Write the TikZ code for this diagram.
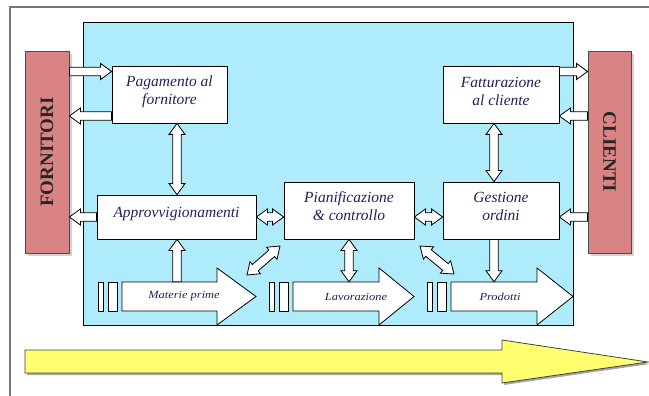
\documentclass[tikz,border=0pt]{standalone}
\usepackage{fontspec}
\setmainfont{Liberation Serif}
\newfontfamily\widefont[FakeStretch=1.15]{Liberation Serif}
\usetikzlibrary{calc,shadows}

\definecolor{panel}{RGB}{174,236,252}
\definecolor{party}{RGB}{217,132,132}
\definecolor{ink}{RGB}{34,34,90}
\definecolor{flow}{RGB}{255,255,112}
\definecolor{frameline}{RGB}{120,120,120}

\newcommand\shafthalf{4.3pt}
\newcommand\headhalf{8pt}
\newcommand\headlen{11pt}

% one-headed block arrow from #1 to #2
\newcommand\onewayarrow[2]{%
  \coordinate (ua-s) at (#1);
  \coordinate (ua-e) at (#2);
  \coordinate (ua-h) at ($(ua-e)!\headlen!(ua-s)$);
  \draw[blockarrow] ($(ua-s)!\shafthalf!90:(ua-e)$) -- ($(ua-h)!\shafthalf!-90:(ua-s)$)
    -- ($(ua-h)!\headhalf!-90:(ua-s)$) -- (ua-e) -- ($(ua-h)!\headhalf!90:(ua-s)$)
    -- ($(ua-h)!\shafthalf!90:(ua-s)$) -- ($(ua-s)!\shafthalf!-90:(ua-e)$) -- cycle;
}
% two-headed block arrow between #1 and #2
\newcommand\twowayarrow[2]{%
  \coordinate (ua-s) at (#1);
  \coordinate (ua-e) at (#2);
  \coordinate (ua-h) at ($(ua-e)!\headlen!(ua-s)$);
  \coordinate (ua-t) at ($(ua-s)!\headlen!(ua-e)$);
  \draw[blockarrow] (ua-s) -- ($(ua-t)!\headhalf!90:(ua-e)$) -- ($(ua-t)!\shafthalf!90:(ua-e)$)
    -- ($(ua-h)!\shafthalf!-90:(ua-s)$) -- ($(ua-h)!\headhalf!-90:(ua-s)$) -- (ua-e)
    -- ($(ua-h)!\headhalf!90:(ua-s)$) -- ($(ua-h)!\shafthalf!90:(ua-s)$)
    -- ($(ua-t)!\shafthalf!-90:(ua-e)$) -- ($(ua-t)!\headhalf!-90:(ua-e)$) -- cycle;
}
% stage arrow: #1 body start, #2 head base, #3 tip
\newcommand\stagearrow[3]{%
  \draw[stage] (#1-24,282) rectangle (#1-19,311);
  \draw[stage] (#1-14,282) rectangle (#1-5,311);
  \draw[stage] (#1,282) -- (#2,282) -- (#2,268) -- (#3,296.5) -- (#2,325) -- (#2,311) -- (#1,311) -- cycle;
}

\tikzset{
  box/.style={draw, fill=white, line width=0.8pt, text=ink, align=center, inner sep=0pt,
    font=\fontsize{15.5}{18}\selectfont\itshape},
  boxtext/.style={text=ink, align=center, inner sep=0pt,
    font=\fontsize{15.5}{18}\selectfont\itshape},
  partner/.style={draw=black!70, fill=party, line width=0.8pt, inner sep=0pt,
    drop shadow={shadow xshift=3pt, shadow yshift=-3pt, fill=black!35}},
  partnertext/.style={font=\fontsize{19}{21}\selectfont\bfseries, text=black!85},
  blockarrow/.style={draw, fill=white, line width=0.8pt, line join=miter},
  stage/.style={draw, fill=white, line width=0.8pt},
  stagelabel/.style={inner sep=0pt, minimum height=29pt, text=ink,
    font=\fontsize{10.8}{12}\widefont\itshape},
}

\begin{document}
\begin{tikzpicture}[x=1pt, y=-1pt]
  \useasboundingbox (0,0) rectangle (649,396);

  % page frame
  \draw[frameline, line width=1.3pt] (10,400) -- (10,7) -- (652,7);

  % company area
  \draw[fill=panel, line width=0.8pt] (83,22) rectangle (573,325);

  % suppliers and customers
  \node[partner, minimum width=44pt, minimum height=202pt] (forn) at (47,152) {};
  \node[partnertext, rotate=90] at (forn.center) {FORNITORI};
  \node[partner, minimum width=43pt, minimum height=202pt] (cli) at (609.5,152) {};
  \node[partnertext, rotate=-90] at (cli.center) {CLIENTI};

  % functions (labels sit a little above the box centre)
  \node[box, minimum width=115pt, minimum height=57pt] (pag) at (169.5,94.5) {};
  \node[boxtext] at ($(pag.center)+(0,-3)$) {Pagamento al\\fornitore};
  \node[box, minimum width=116pt, minimum height=57pt] (fatt) at (501,94.5) {};
  \node[boxtext] at ($(fatt.center)+(0,-3)$) {Fatturazione\\al cliente};
  \node[box, minimum width=159pt, minimum height=44pt] (appr) at (176.5,217) {};
  \node[boxtext] at ($(appr.center)+(0,-3)$) {Approvvigionamenti};
  \node[box, minimum width=130pt, minimum height=57pt] (pian) at (349,210.5) {};
  \node[boxtext] at ($(pian.center)+(0,-4)$) {Pianificazione\\\& controllo};
  \node[box, minimum width=116pt, minimum height=57pt] (gest) at (501,210.5) {};
  \node[boxtext] at ($(gest.center)+(0,-4)$) {Gestione\\ordini};

  % material flow
  \stagearrow{122}{217}{256}
  \stagearrow{293}{379}{414}
  \stagearrow{451}{537}{573}
  \node[stagelabel] (mat) at (184,296.5) {Materie prime};
  \node[stagelabel] (lav) at (356,296.5) {Lavorazione};
  \node[stagelabel] (prod) at (500,296.5) {Prodotti};

  % columns and rows of the links
  \coordinate (c1) at (177,0);
  \coordinate (c2) at (349,0);
  \coordinate (c3) at (494,0);
  \coordinate (r1) at (0,71.5);
  \coordinate (r2) at (0,116);
  \coordinate (r3) at (0,217);
  \coordinate (dl-a) at (280,246);
  \coordinate (dl-b) at (247,275);
  \coordinate (dr-a) at (420,246);
  \coordinate (dr-b) at (454,274);

  % links with suppliers and customers
  \onewayarrow{forn.east |- r1}{pag.west |- r1}
  \onewayarrow{pag.west |- r2}{forn.east |- r2}
  \onewayarrow{appr.west |- r3}{forn.east |- r3}
  \onewayarrow{fatt.east |- r1}{cli.west |- r1}
  \onewayarrow{cli.west |- r2}{fatt.east |- r2}
  \onewayarrow{cli.west |- r3}{gest.east |- r3}

  % internal links
  \twowayarrow{pag.south -| c1}{appr.north -| c1}
  \twowayarrow{appr.east |- r3}{pian.west |- r3}
  \twowayarrow{pian.east |- r3}{gest.west |- r3}
  \twowayarrow{fatt.south -| c3}{gest.north -| c3}
  \twowayarrow{pian.south -| c2}{lav.north -| c2}
  \onewayarrow{gest.south -| c3}{prod.north -| c3}
  \onewayarrow{mat.north -| c1}{appr.south -| c1}
  \twowayarrow{dl-a}{dl-b}
  \twowayarrow{dr-a}{dr-b}

  % time line
  \fill[black!35] (27,352) -- (504,352) -- (504,342) -- (650,364) -- (504,385) -- (504,375) -- (27,375) -- cycle;
  \draw[fill=flow, draw=black!75, line width=0.8pt] (25,350) -- (502,350) -- (502,340) -- (648,362)
    -- (502,383) -- (502,373) -- (25,373) -- cycle;
\end{tikzpicture}
\end{document}
